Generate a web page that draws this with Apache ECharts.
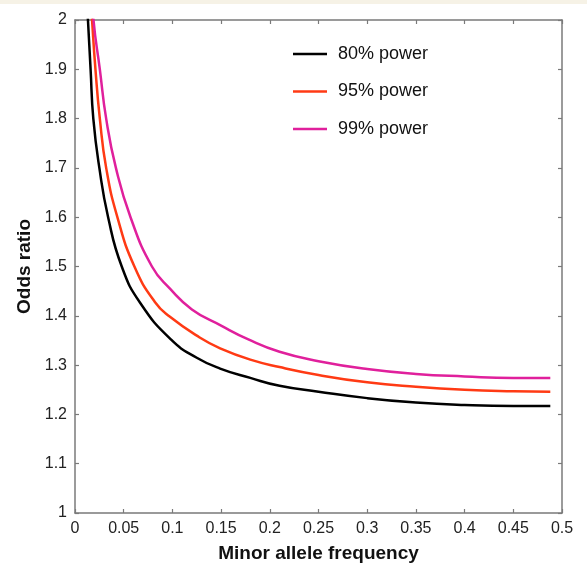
<!DOCTYPE html>
<html>
<head>
<meta charset="utf-8">
<script src="https://cdn.jsdelivr.net/npm/echarts@6/dist/echarts.min.js"></script>
<style>
    html, body { margin: 0; padding: 0; background: #fff; }
    #chart { width: 587px; height: 568px; }
    .band { position: absolute; left: 0; top: 0; width: 587px; height: 4px; background: #f6f2e6; }
</style>
</head>
<body>
<div id="chart"></div>
<div class="band"></div>
<script>
// minor allele frequency / odds ratio pairs
const power80 = [
    [0.011, 2.08], [0.0133, 2.0], [0.016, 1.9], [0.0188, 1.8], [0.025, 1.7],
    [0.034, 1.6], [0.048, 1.5], [0.067, 1.426], [0.099, 1.351], [0.125, 1.315],
    [0.149, 1.293], [0.18, 1.274], [0.21, 1.258], [0.25, 1.246], [0.3, 1.233],
    [0.35, 1.224], [0.4, 1.219], [0.45, 1.217], [0.488, 1.217]
];
const power95 = [
    [0.015, 2.08], [0.0175, 2.0], [0.021, 1.9], [0.0255, 1.8], [0.032, 1.7],
    [0.0435, 1.6], [0.061, 1.5], [0.082, 1.428], [0.0975, 1.398], [0.128, 1.356],
    [0.149, 1.334], [0.18, 1.311], [0.21, 1.296], [0.25, 1.28], [0.3, 1.265],
    [0.35, 1.256], [0.4, 1.25], [0.45, 1.247], [0.488, 1.246]
];
const power99 = [
    [0.017, 2.08], [0.019, 2.0], [0.0255, 1.9], [0.032, 1.8], [0.042, 1.7],
    [0.057, 1.6], [0.079, 1.5], [0.0975, 1.455], [0.12, 1.413], [0.15, 1.38],
    [0.178, 1.352], [0.21, 1.327], [0.25, 1.308], [0.3, 1.292], [0.35, 1.282],
    [0.4, 1.277], [0.45, 1.274], [0.488, 1.274]
];
const seriesNames = ['80% power', '95% power', '99% power'];
const seriesColors = ['#000000', '#ff3a14', '#e0209c'];
const xTicks = [0, 0.5, 0.05];   // min, max, step
const yTicks = [1, 2, 0.1];

const axisGrey = '#7a7a7a';
const myChart = echarts.init(document.getElementById('chart'));

const boxAxis = {
    axisLine: { show: true, onZero: false, lineStyle: { color: axisGrey, width: 1.5 } },
    axisTick: { show: true, inside: true, length: 4, lineStyle: { color: axisGrey, width: 1.2 } },
    splitLine: { show: false }
};
const tickFont = { fontFamily: 'Liberation Sans', fontSize: 16, color: '#222', margin: 8 };
const nameFont = { fontFamily: 'Liberation Sans', fontSize: 19, fontWeight: 'bold', color: '#111' };

const option = {
    animation: false,
    grid: { left: 75, right: 25, top: 20, bottom: 55 },
    legend: {
        orient: 'vertical',
        left: 293,
        top: 45,
        padding: 0,
        itemGap: 19.5,
        icon: 'rect',
        itemWidth: 34,
        itemHeight: 2.5,
        data: seriesNames,
        textStyle: { fontFamily: 'Liberation Sans', fontSize: 18, color: '#111', padding: [0, 0, 0, 6] }
    },
    xAxis: [
        Object.assign({}, boxAxis, {
            type: 'value', min: xTicks[0], max: xTicks[1], interval: xTicks[2],
            name: 'Minor allele frequency', nameLocation: 'middle', nameGap: 31,
            nameTextStyle: nameFont,
            axisLabel: tickFont
        }),
        Object.assign({}, boxAxis, {
            type: 'value', position: 'top', min: xTicks[0], max: xTicks[1], interval: xTicks[2],
            axisLabel: { show: false }
        })
    ],
    yAxis: [
        Object.assign({}, boxAxis, {
            type: 'value', min: yTicks[0], max: yTicks[1], interval: yTicks[2],
            name: 'Odds ratio', nameLocation: 'middle', nameGap: 37,
            nameTextStyle: nameFont,
            axisLabel: Object.assign({}, tickFont, { formatter: v => String(Math.round(v * 10) / 10) })
        }),
        Object.assign({}, boxAxis, {
            type: 'value', position: 'right', min: yTicks[0], max: yTicks[1], interval: yTicks[2],
            axisLabel: { show: false }
        })
    ],
    series: [power80, power95, power99].map((d, i) => ({
        name: seriesNames[i],
        type: 'line',
        data: d,
        smooth: 0.5,
        showSymbol: false,
        clip: true,
        lineStyle: { color: seriesColors[i], width: 2.5 },
        itemStyle: { color: seriesColors[i] }
    }))
};

myChart.setOption(option);
</script>
</body>
</html>
